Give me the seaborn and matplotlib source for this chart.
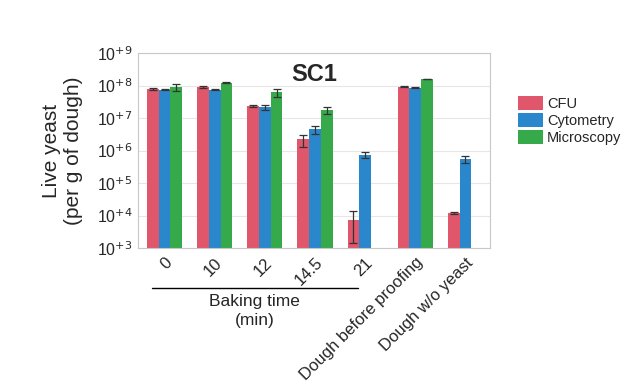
import numpy as np
import pandas as pd
import seaborn as sns
import matplotlib
matplotlib.use("Agg")
import matplotlib.pyplot as plt
from matplotlib.lines import Line2D
from matplotlib.patches import Patch

categories = ["0", "10", "12", "14.5", "21", "Dough before proofing", "Dough w/o yeast"]
methods = ["CFU", "Cytometry", "Microscopy"]
cfu = [7.8e7, 9.0e7, 2.4e7, 2.2e6, 7.4e3, 9.3e7, 1.2e4]
cfu_err = [4e6, 8e6, 2e6, 0.9e6, 6e3, 3e6, 1.2e3]
cyto = [7.5e7, 7.5e7, 2.2e7, 4.5e6, 7.4e5, 8.6e7, 5.5e5]
cyto_err = [3e6, 3e6, 4e6, 1.2e6, 1.5e5, 3e6, 1.3e5]
micro = [9.0e7, 1.2e8, 6.1e7, 1.75e7, np.nan, 1.6e8, np.nan]
micro_err = [2e7, 4e6, 1.6e7, 4e6, np.nan, 4e6, np.nan]

colors = ["#E0566A", "#2B87CB", "#36A94A"]

rows = []
for i, c in enumerate(categories):
    for m, vals, errs in zip(methods, [cfu, cyto, micro], [cfu_err, cyto_err, micro_err]):
        rows.append({"cat": c, "method": m, "value": vals[i], "err": errs[i]})
df = pd.DataFrame(rows)

sns.set_theme(style="white")
plt.rcParams['font.family'] = ['Liberation Sans', 'DejaVu Sans']

fig = plt.figure(figsize=(6.4, 3.84), dpi=100)
ax = fig.add_axes([0.2156, 0.354, 0.55, 0.508])

width = 0.7
sns.barplot(data=df, x="cat", y="value", hue="method", order=categories,
            hue_order=methods, palette=colors, width=width, gap=0,
            errorbar=None, ax=ax, legend=False, saturation=1, edgecolor="none")
ax.set_yscale("log")
ax.set_ylim(1e3, 1e9)
ax.set_xlim(-0.53, 6.49)

nh = len(methods)
bw = width / nh
for j, m in enumerate(methods):
    sub = df[df.method == m]
    for i, c in enumerate(categories):
        r = sub[sub.cat == c].iloc[0]
        if np.isnan(r.value):
            continue
        x = i - width / 2 + bw * (j + 0.5)
        lo = min(r.err, r.value - 1.2e3)
        ax.errorbar(x, r.value, yerr=[[lo], [r.err]], fmt="none", ecolor="#333333",
                    elinewidth=0.9, capsize=3, capthick=0.9, zorder=5)

ax.set_yticks([10.0**k for k in range(3, 10)])
ax.set_yticklabels([f"10$^{{+{k}}}$" for k in range(3, 10)], fontsize=11.5)
ax.minorticks_off()
ax.yaxis.grid(True, color="#e6e6e6", linewidth=0.8)
ax.set_axisbelow(True)
for s in ax.spines.values():
    s.set_color("#c8c8c8")
    s.set_linewidth(0.8)
ax.tick_params(axis="y", length=2, color="#c8c8c8", pad=2)
ax.tick_params(axis="x", length=3, color="#c8c8c8", pad=2)
ax.set_xticks(range(len(categories)))
ax.set_xticklabels(categories, rotation=45, ha="right", rotation_mode="anchor", fontsize=12)
ax.set_xlabel("")
ax.set_ylabel("Live yeast\n(per g of dough)", fontsize=15, labelpad=10)
ax.text(0.5, 0.95, "SC1", transform=ax.transAxes, ha="center", va="top",
        fontsize=17, fontweight="bold")

fig.add_artist(Line2D([0.2375, 0.559], [0.25, 0.25], color="black", linewidth=1))
fig.text(0.398, 0.235, "Baking time\n(min)", ha="center", va="top", fontsize=12.5,
         linespacing=1.35)

handles = [Patch(facecolor=c, edgecolor="none") for c in colors]
fig.legend(handles, methods, loc="upper left", bbox_to_anchor=(0.8, 0.765),
           frameon=False, fontsize=10.5, handlelength=1.7, handleheight=1.1,
           handletextpad=0.3, labelspacing=0.15, borderaxespad=0)

fig.savefig("out.png", dpi=100)
